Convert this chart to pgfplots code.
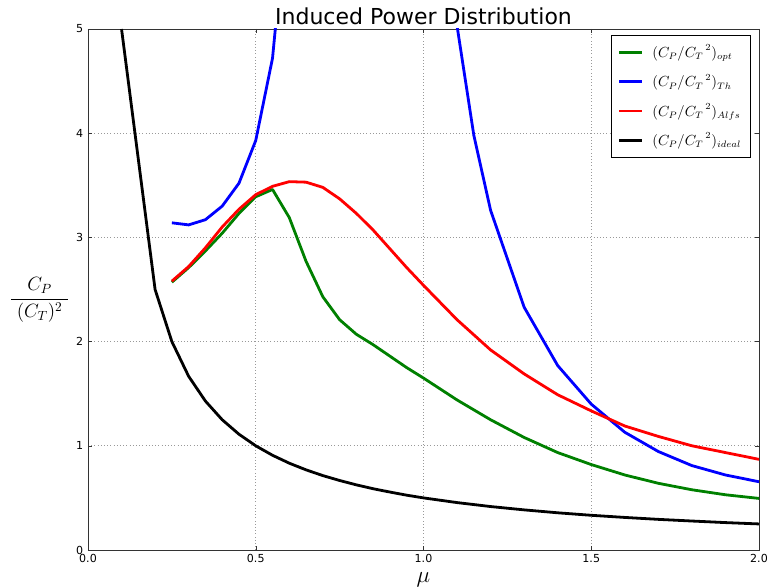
\documentclass[border=0pt]{standalone}
\usepackage{amsmath}
\usepackage{pgfplots}
\pgfplotsset{compat=1.18}
\usepackage{fontspec}
\setmainfont{DejaVu Sans}
\definecolor{mplgreen}{rgb}{0,0.5,0}

\begin{document}
\begin{tikzpicture}
\begin{axis}[
  at={(0pt,0pt)}, anchor=south west,
  scale only axis, width=503.25pt, height=390.75pt,
  xmin=0, xmax=2, ymin=0, ymax=5,
  xtick={0,0.5,1,1.5,2}, xticklabels={0.0,0.5,1.0,1.5,2.0},
  ytick={0,1,2,3,4,5}, yticklabels={0,1,2,3,4,5},
  tick label style={font=\fontsize{8.3}{10}\selectfont},
  tick align=inside, major tick length=3pt,
  axis line style={black!80}, tick style={black!80},
  grid=major, grid style={dotted, gray!80, line width=0.5pt},
  title={Induced Power Distribution},
  title style={font=\fontsize{16.5}{19}\selectfont, yshift=-6.5pt},
  xlabel={$\mu$},
  xlabel style={font=\fontsize{17}{19}\selectfont, yshift=-0.5pt},
  ylabel={$\dfrac{C_P}{\;(C_T)^2\;}$},
  ylabel style={rotate=-90, at={(axis description cs:-0.072,0.48)}, anchor=center,
    font=\fontsize{14}{16}\selectfont},
  legend style={at={(0.988,0.988)}, anchor=north east, draw=black, fill=white,
    font=\fontsize{10.5}{12.5}\selectfont, row sep=7pt, inner xsep=5pt, inner ysep=5pt,
    /tikz/every odd column/.append style={column sep=5pt}},
  legend cell align=left,
  legend image code/.code={\draw[#1] (0pt,0pt) -- (17pt,0pt);},
  every axis plot/.append style={line width=2.1pt, line join=round},
]
\addplot[mplgreen] coordinates {
  (0.25,2.57)(0.3,2.71)(0.35,2.87)(0.4,3.04)(0.45,3.23)(0.5,3.39)(0.55,3.46)
  (0.6,3.19)(0.65,2.77)(0.7,2.43)(0.75,2.21)(0.8,2.07)(0.85,1.97)(0.9,1.86)
  (0.95,1.75)(1.0,1.65)(1.1,1.44)(1.2,1.25)(1.3,1.08)(1.4,0.935)(1.5,0.82)
  (1.6,0.72)(1.7,0.64)(1.8,0.578)(1.9,0.53)(2.0,0.495)};
\addplot[blue] coordinates {
  (0.25,3.14)(0.3,3.12)(0.35,3.17)(0.4,3.30)(0.45,3.52)(0.5,3.93)(0.55,4.72)
  (0.6,6.4)(1.05,7.5)(1.1,5.03)(1.15,3.98)(1.2,3.26)(1.3,2.33)(1.4,1.77)
  (1.5,1.40)(1.6,1.13)(1.7,0.945)(1.8,0.81)(1.9,0.72)(2.0,0.655)};
\addplot[red] coordinates {
  (0.25,2.58)(0.3,2.72)(0.35,2.90)(0.4,3.10)(0.45,3.27)(0.5,3.41)(0.55,3.49)
  (0.6,3.535)(0.65,3.53)(0.7,3.48)(0.75,3.37)(0.8,3.23)(0.85,3.07)(0.9,2.89)
  (0.95,2.71)(1.0,2.54)(1.1,2.21)(1.2,1.92)(1.3,1.69)(1.4,1.49)(1.5,1.335)
  (1.6,1.19)(1.7,1.09)(1.8,1.0)(1.9,0.935)(2.0,0.87)};
\addplot[black] coordinates {
  (0.1,5.0)(0.2,2.5)(0.25,2.0)(0.3,1.667)(0.35,1.429)(0.4,1.25)(0.45,1.111)
  (0.5,1.0)(0.55,0.909)(0.6,0.833)(0.65,0.769)(0.7,0.714)(0.75,0.667)(0.8,0.625)
  (0.85,0.588)(0.9,0.556)(0.95,0.526)(1.0,0.5)(1.1,0.455)(1.2,0.417)(1.3,0.385)
  (1.4,0.357)(1.5,0.333)(1.6,0.3125)(1.7,0.294)(1.8,0.278)(1.9,0.263)(2.0,0.25)};
\legend{$(C_P/{C_T}^{\,2})_{opt}$, $(C_P/{C_T}^{\,2})_{Th}$,
        $(C_P/{C_T}^{\,2})_{Alfs}$, $(C_P/{C_T}^{\,2})_{ideal}$}
\end{axis}
\pgfresetboundingbox
\path[use as bounding box] (-66pt,-28.5pt) rectangle (510pt,412.5pt);
\end{tikzpicture}
\end{document}
